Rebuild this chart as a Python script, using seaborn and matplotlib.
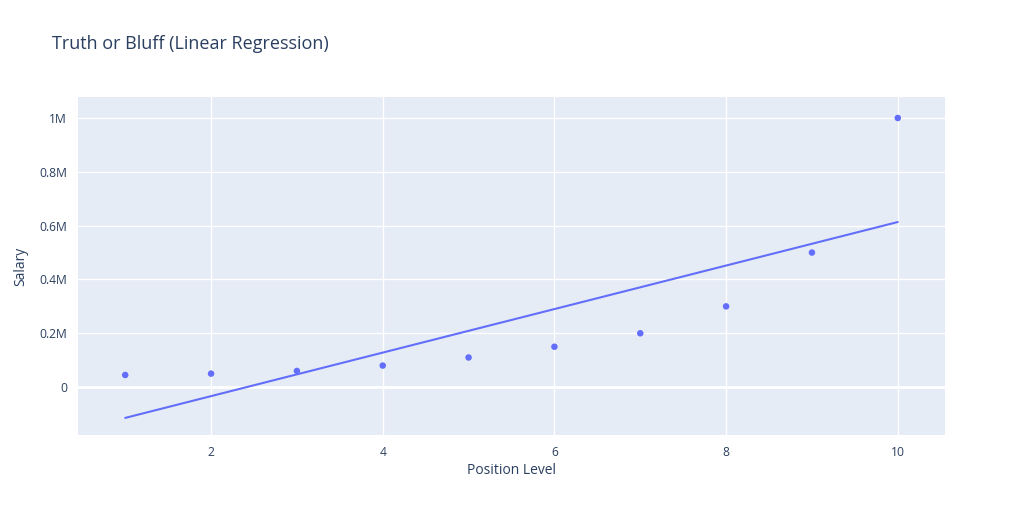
import matplotlib
matplotlib.use("Agg")
import matplotlib.pyplot as plt
import seaborn as sns
import pandas as pd
from matplotlib.ticker import FuncFormatter

position_level = [1, 2, 3, 4, 5, 6, 7, 8, 9, 10]
salary = [45000, 50000, 60000, 80000, 110000, 150000, 200000, 300000, 500000, 1000000]
predicted_salary = [-114455, -33576, 47303, 128182, 209061, 289939, 370818, 451697, 532576, 613455]

df = pd.DataFrame({"Position Level": position_level, "Salary": salary, "Predicted": predicted_salary})

sns.set_theme(style="darkgrid", rc={
    "axes.facecolor": "#E5ECF6",
    "grid.color": "white",
    "grid.linewidth": 1.0,
    "axes.edgecolor": "#E5ECF6",
})
plt.rcParams["font.family"] = ["Open Sans", "DejaVu Sans"]

text_color = "#2a3f5f"
marker_color = "#636EFA"

fig = plt.figure(figsize=(10.24, 5.14), dpi=100)
ax = fig.add_axes([78 / 1024, 1 - 435 / 514, (945 - 78) / 1024, (435 - 97) / 514])

sns.scatterplot(data=df, x="Position Level", y="Salary", ax=ax, color=marker_color,
                s=22, edgecolor="none", zorder=3)
sns.lineplot(data=df, x="Position Level", y="Predicted", ax=ax, color=marker_color,
             linewidth=1.5, zorder=3)

ax.set_xlim(0.45, 10.55)
ax.set_ylim(-178000, 1078000)
ax.set_xticks([2, 4, 6, 8, 10])
ax.set_yticks([0, 200000, 400000, 600000, 800000, 1000000])

def fmt(v, pos):
    if v == 0:
        return "0"
    m = v / 1e6
    s = ("%.1f" % m).rstrip("0").rstrip(".")
    return s + "M"

ax.yaxis.set_major_formatter(FuncFormatter(fmt))
ax.tick_params(axis="both", length=0, labelsize=8.7, colors=text_color, pad=8)
ax.axhline(0, color="white", linewidth=2, zorder=1)
for s in ax.spines.values():
    s.set_visible(False)

ax.set_xlabel("Position Level", fontsize=10, color=text_color, labelpad=3)
ax.set_ylabel("Salary", fontsize=10, color=text_color, labelpad=8)

fig.text(52 / 1024, 1 - 44 / 514, "Truth or Bluff (Linear Regression)", fontsize=13,
         color=text_color, va="center", ha="left")

fig.savefig("out.png", dpi=100, facecolor="white")
